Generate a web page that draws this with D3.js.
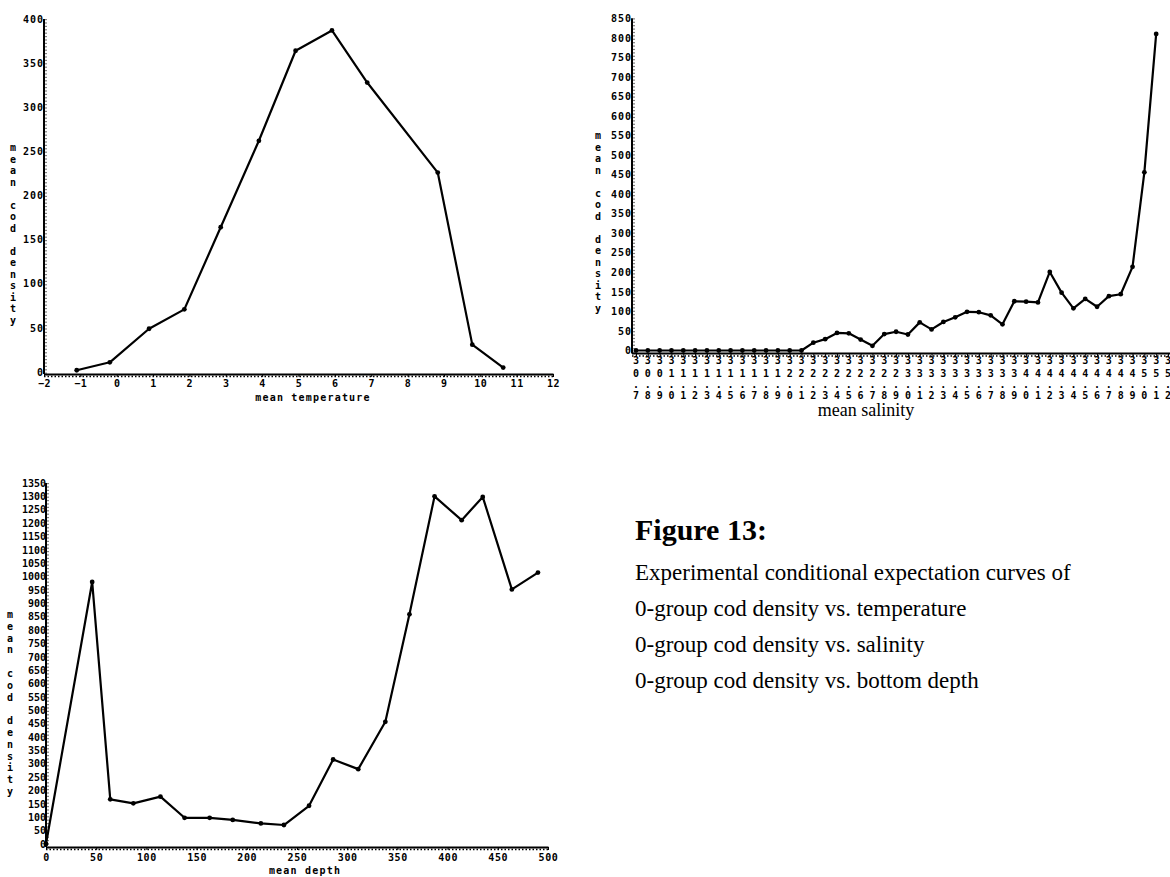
<!DOCTYPE html>
<html><head><meta charset="utf-8">
<script src="https://cdn.jsdelivr.net/npm/d3@7"></script>
<style>
body{margin:0;background:#fff;}
svg{display:block;background:#fff;}
.ax text{font-family:"DejaVu Sans Mono",monospace;font-weight:bold;font-size:10px;fill:#000;}
.ax path.domain{stroke:#000;stroke-width:2;}
.ax line{stroke:#000;stroke-width:1;}
.mono{font-family:"DejaVu Sans Mono",monospace;font-weight:bold;font-size:10px;fill:#000;}
.serif{font-family:"Liberation Serif","Times New Roman",serif;fill:#000;}
</style></head><body>
<svg id="c" width="1170" height="877"></svg>
<script>
// ---------- data ----------
// Chart 1: mean temperature vs mean cod density
const tempX = [-1.1, -0.19, 0.89, 1.86, 2.86, 3.91, 4.92, 5.92, 6.89, 8.83, 9.78, 10.63];
const tempY = [2, 11, 49, 71, 164, 262, 364, 387, 328, 226, 31, 5];
const tempXTicks = [-2, -1, 0, 1, 2, 3, 4, 5, 6, 7, 8, 9, 10, 11, 12];
const tempYTicks = [0, 50, 100, 150, 200, 250, 300, 350, 400];

// Chart 2: mean salinity vs mean cod density
const salLabels = ["30.7","30.8","30.9","31.0","31.1","31.2","31.3","31.4","31.5","31.6","31.7","31.8","31.9",
  "32.0","32.1","32.2","32.3","32.4","32.5","32.6","32.7","32.8","32.9",
  "33.0","33.1","33.2","33.3","33.4","33.5","33.6","33.7","33.8","33.9",
  "34.0","34.1","34.2","34.3","34.4","34.5","34.6","34.7","34.8","34.9",
  "35.0","35.1","35.2"];
const salY = [0, 0, 0, 0, 0, 0, 0, 0, 0, 0, 0, 0, 0, 0, 0,
  20, 29, 45, 44, 28, 12, 42, 48, 41, 72, 54, 73, 85, 99, 98, 90, 67,
  126, 125, 123, 201, 148, 108, 132, 112, 139, 144, 214, 456, 810];
const salYTicks = [0, 50, 100, 150, 200, 250, 300, 350, 400, 450, 500, 550, 600, 650, 700, 750, 800, 850];

// Chart 3: mean depth vs mean cod density
const depthX = [0, 46, 64, 87, 114, 138, 163, 186, 214, 237, 262, 286, 311, 338, 362, 387, 414, 435, 464, 490];
const depthY = [0, 980, 167, 152, 177, 98, 98, 90, 77, 71, 143, 316, 280, 457, 859, 1300, 1211, 1298, 952, 1015];
const depthXTicks = [0, 50, 100, 150, 200, 250, 300, 350, 400, 450, 500];
const depthYTicks = [0, 50, 100, 150, 200, 250, 300, 350, 400, 450, 500, 550, 600, 650, 700,
  750, 800, 850, 900, 950, 1000, 1050, 1100, 1150, 1200, 1250, 1300, 1350];

const yTitle = "mean cod density";
const captionTitle = "Figure 13:";
const captionLines = [
  "Experimental conditional expectation curves of",
  "0-group cod density vs. temperature",
  "0-group cod density vs. salinity",
  "0-group cod density vs. bottom depth"
];

// ---------- drawing ----------
const svg = d3.select("#c");
const fmt = d3.format("d");

function stackedTitle(x, yTop, step, str) {
  const t = svg.append("text").attr("class", "mono").attr("text-anchor", "middle");
  [...str].forEach((ch, i) => {
    t.append("tspan").attr("x", x).attr("y", yTop + i * step).text(ch);
  });
}

function drawSeries(g, pts) {
  g.append("path").datum(pts)
    .attr("fill", "none").attr("stroke", "#000").attr("stroke-width", 2.2)
    .attr("stroke-linejoin", "round")
    .attr("d", d3.line().x(d => d[0]).y(d => d[1]));
  g.selectAll("circle.pt").data(pts).join("circle").attr("class", "pt")
    .attr("cx", d => d[0]).attr("cy", d => d[1]).attr("r", 2.4).attr("fill", "#000");
}

function dottedX(y, x0, x1) {
  svg.append("line").attr("x1", x0).attr("x2", x1).attr("y1", y + 2.5).attr("y2", y + 2.5)
    .attr("stroke", "#000").attr("stroke-width", 1.3).attr("stroke-dasharray", "1.5,2");
}
function dottedY(x, y0, y1) {
  svg.append("line").attr("x1", x - 2.5).attr("x2", x - 2.5).attr("y1", y0).attr("y2", y1)
    .attr("stroke", "#000").attr("stroke-width", 1).attr("stroke-dasharray", "1.2,2.2");
}

// ===== Chart 1 =====
{
  const x = d3.scaleLinear().domain([-2, 12]).range([44, 553]);
  const y = d3.scaleLinear().domain([0, 400]).range([372, 19]);
  const axisY = 374;
  const gx = svg.append("g").attr("class", "ax").attr("transform", `translate(0,${axisY})`)
    .call(d3.axisBottom(x).tickValues(tempXTicks).tickSize(3).tickSizeOuter(0).tickPadding(3).tickFormat(fmt));
  gx.selectAll("text").attr("letter-spacing", "0.6");
  dottedX(axisY, 44, 553);
  const gy = svg.append("g").attr("class", "ax").attr("transform", `translate(${x(-2)},0)`)
    .call(d3.axisLeft(y).tickValues(tempYTicks).tickSize(0).tickSizeOuter(0).tickPadding(0).tickFormat(fmt));
  gy.select(".domain").attr("d", `M0,${axisY}V${y(400)}`);
  gy.selectAll("text").attr("letter-spacing", "1");
  dottedY(x(-2) + 4.5, y(400), axisY);
  drawSeries(svg.append("g"), tempX.map((v, i) => [x(v), y(tempY[i])]));
  svg.append("text").attr("class", "mono").attr("x", 313).attr("y", 401)
    .attr("text-anchor", "middle").attr("letter-spacing", "1.2").text("mean temperature");
  stackedTitle(13, 151, 11.5, yTitle);
}

// ===== Chart 2 =====
{
  const x = d3.scalePoint().domain(salLabels).range([636, 1168]);
  const y = d3.scaleLinear().domain([0, 850]).range([350.5, 18.3]);
  const axisY = 353.5;
  const gx = svg.append("g").attr("class", "ax").attr("transform", `translate(0,${axisY})`)
    .call(d3.axisBottom(x).tickSize(3).tickSizeOuter(0).tickFormat(""));
  gx.select(".domain").attr("d", `M632,0H1170`);
  dottedX(axisY, 632, 1170);
  salLabels.forEach(lbl => {
    const parts = [lbl[0], lbl[1], ".", lbl[3]];
    const base = [364, 377, 388, 399];
    const t = svg.append("text").attr("class", "mono").attr("text-anchor", "middle");
    parts.forEach((p, k) => t.append("tspan").attr("x", x(lbl)).attr("y", base[k]).text(p));
  });
  const gy = svg.append("g").attr("class", "ax").attr("transform", `translate(632,0)`)
    .call(d3.axisLeft(y).tickValues(salYTicks).tickSize(0).tickSizeOuter(0).tickPadding(0).tickFormat(fmt));
  gy.select(".domain").attr("d", `M0,${axisY}V${y(850)}`);
  gy.selectAll("text").attr("letter-spacing", "1");
  dottedY(636.5, y(850), axisY);
  drawSeries(svg.append("g"), salY.map((v, i) => [x(salLabels[i]), y(v)]));
  svg.append("text").attr("class", "serif").attr("x", 866).attr("y", 416)
    .attr("text-anchor", "middle").style("font-size", "18px").text("mean salinity");
  stackedTitle(598, 139, 11.5, yTitle);
}

// ===== Chart 3 =====
{
  const x = d3.scaleLinear().domain([0, 500]).range([46, 548]);
  const y = d3.scaleLinear().domain([0, 1350]).range([844, 483]);
  const axisY = 847;
  const gx = svg.append("g").attr("class", "ax").attr("transform", `translate(0,${axisY})`)
    .call(d3.axisBottom(x).tickValues(depthXTicks).tickSize(3).tickSizeOuter(0).tickPadding(4).tickFormat(fmt));
  gx.selectAll("text").attr("letter-spacing", "0.6");
  dottedX(axisY, 46, 548);
  const gy = svg.append("g").attr("class", "ax").attr("transform", `translate(46,0)`)
    .call(d3.axisLeft(y).tickValues(depthYTicks).tickSize(0).tickSizeOuter(0).tickPadding(0).tickFormat(fmt));
  gy.select(".domain").attr("d", `M0,${axisY}V${y(1350)}`);
  dottedY(50.5, y(1350), axisY);
  drawSeries(svg.append("g"), depthX.map((v, i) => [x(v), y(depthY[i])]));
  svg.append("text").attr("class", "mono").attr("x", 305).attr("y", 874)
    .attr("text-anchor", "middle").attr("letter-spacing", "1.2").text("mean depth");
  stackedTitle(10, 618, 11.8, yTitle);
}

// ===== Caption =====
svg.append("text").attr("class", "serif").attr("x", 635).attr("y", 540)
  .style("font-size", "30px").style("font-weight", "bold").text(captionTitle);
captionLines.forEach((s, i) => {
  svg.append("text").attr("class", "serif").attr("x", 635).attr("y", 580 + i * 36)
    .style("font-size", "23px").text(s);
});
</script>
</body></html>
